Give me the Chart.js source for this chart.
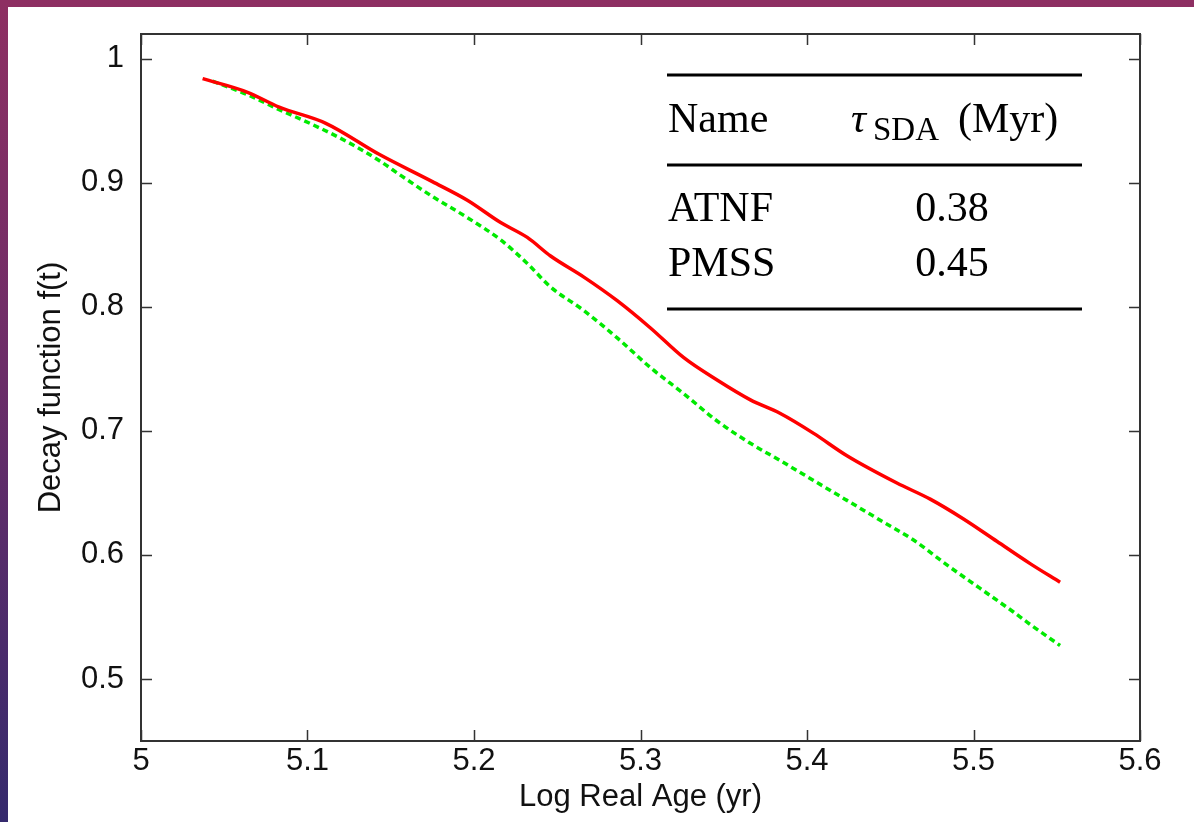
<!DOCTYPE html>
<html>
<head>
<meta charset="utf-8">
<script src="https://cdn.jsdelivr.net/npm/chart.js@4"></script>
<style>
  html, body { margin: 0; padding: 0; }
  body {
    width: 1194px; height: 822px; overflow: hidden; position: relative;
    background: linear-gradient(to bottom, #8e2f62 0%, #6c2d68 45%, #352a6d 100%);
  }
  #card { position: absolute; left: 8px; top: 7px; width: 1186px; height: 815px; background: #fff; }
  #chart { display: block; }
</style>
</head>
<body>
<div id="card"><canvas id="chart" width="1186" height="815"></canvas></div>
<script>
// Data
const atnfAge = [5.037, 5.064, 5.083, 5.111, 5.143, 5.175, 5.196, 5.216, 5.232, 5.246, 5.266, 5.286,
  5.306, 5.326, 5.346, 5.366, 5.384, 5.404, 5.424, 5.454, 5.474, 5.494, 5.514, 5.534, 5.552];
const atnfDecay = [0.984, 0.973, 0.961, 0.948, 0.923, 0.901, 0.886, 0.868, 0.856, 0.841, 0.824, 0.805,
  0.783, 0.759, 0.741, 0.725, 0.714, 0.698, 0.680, 0.658, 0.645, 0.629, 0.611, 0.593, 0.578];

const pmssAge = [5.043, 5.064, 5.083, 5.103, 5.124, 5.143, 5.156, 5.175, 5.196, 5.216, 5.232, 5.246,
  5.266, 5.286, 5.306, 5.326, 5.346, 5.366, 5.384, 5.404, 5.424, 5.444, 5.464, 5.484, 5.504, 5.524, 5.534, 5.552];
const pmssDecay = [0.982, 0.971, 0.959, 0.947, 0.933, 0.918, 0.906, 0.889, 0.872, 0.854, 0.835, 0.816,
  0.797, 0.775, 0.751, 0.730, 0.708, 0.690, 0.676, 0.660, 0.644, 0.628, 0.612, 0.592, 0.573, 0.554, 0.544, 0.527];

const xTicks = [5, 5.1, 5.2, 5.3, 5.4, 5.5, 5.6];
const xTickLabels = ['5', '5.1', '5.2', '5.3', '5.4', '5.5', '5.6'];
const yTicks = [0.5, 0.6, 0.7, 0.8, 0.9, 1];
const yTickLabels = ['0.5', '0.6', '0.7', '0.8', '0.9', '1'];

// inset table
const tableNames = ['ATNF', 'PMSS'];
const tableTau = ['0.38', '0.45'];

const toPoints = (xs, ys) => xs.map((x, i) => ({ x: x, y: ys[i] }));

// gnuplot style frame with inward ticks on all sides
const framePlugin = {
  id: 'frame',
  afterDatasetsDraw(chart) {
    const { ctx, chartArea: a, scales } = chart;
    const tick = 11;
    ctx.save();
    ctx.strokeStyle = '#333';
    ctx.lineWidth = 2;
    ctx.strokeRect(a.left, a.top, a.right - a.left, a.bottom - a.top);
    ctx.lineWidth = 1.5;
    ctx.beginPath();
    xTicks.forEach(v => {
      const px = Math.round(scales.x.getPixelForValue(v)) + 0.5;
      ctx.moveTo(px, a.bottom); ctx.lineTo(px, a.bottom - tick);
      ctx.moveTo(px, a.top); ctx.lineTo(px, a.top + tick);
    });
    yTicks.forEach(v => {
      const py = Math.round(scales.y.getPixelForValue(v)) + 0.5;
      ctx.moveTo(a.left, py); ctx.lineTo(a.left + tick, py);
      ctx.moveTo(a.right, py); ctx.lineTo(a.right - tick, py);
    });
    ctx.stroke();
    ctx.restore();
  }
};

// the LaTeX table in the upper right
const tablePlugin = {
  id: 'table',
  afterDraw(chart) {
    const ctx = chart.ctx;
    const left = 659, right = 1074;
    const serif = '"Liberation Serif", "DejaVu Serif", serif';
    ctx.save();
    ctx.fillStyle = '#000';
    ctx.strokeStyle = '#000';
    ctx.lineWidth = 3;
    [68, 158, 302].forEach(y => {
      ctx.beginPath(); ctx.moveTo(left, y); ctx.lineTo(right, y); ctx.stroke();
    });
    ctx.textBaseline = 'alphabetic';
    ctx.textAlign = 'left';
    ctx.font = '42px ' + serif;
    ctx.fillText('Name', 660, 125);
    ctx.font = 'italic 42px ' + serif;
    ctx.fillText('\u03C4', 843, 125);
    ctx.font = '33px ' + serif;
    ctx.fillText('SDA', 865, 133);
    ctx.font = '42px ' + serif;
    ctx.fillText('(Myr)', 950, 125);
    const rowY = [214, 269];
    tableNames.forEach((n, i) => {
      ctx.textAlign = 'left';
      ctx.fillText(n, 660, rowY[i]);
      ctx.textAlign = 'center';
      ctx.fillText(tableTau[i], 944, rowY[i]);
    });
    ctx.restore();
  }
};

const sansFont = { family: '"Liberation Sans", Arial, sans-serif', size: 31, lineHeight: 1.2 };

new Chart(document.getElementById('chart'), {
  type: 'scatter',
  data: {
    datasets: [
      {
        label: 'ATNF',
        data: toPoints(atnfAge, atnfDecay),
        showLine: true,
        borderColor: '#ff0000',
        borderWidth: 3.5,
        pointRadius: 0,
        cubicInterpolationMode: 'monotone'
      },
      {
        label: 'PMSS',
        data: toPoints(pmssAge, pmssDecay),
        showLine: true,
        borderColor: '#00ea00',
        borderWidth: 3.5,
        borderDash: [6, 4],
        pointRadius: 0,
        cubicInterpolationMode: 'monotone'
      }
    ]
  },
  options: {
    responsive: false,
    animation: false,
    layout: { padding: { left: 0, top: 27, right: 54, bottom: 0 } },
    plugins: { legend: { display: false }, tooltip: { enabled: false } },
    scales: {
      x: {
        type: 'linear',
        min: 5, max: 5.6,
        afterBuildTicks: s => { s.ticks = xTicks.map(v => ({ value: v })); },
        afterFit: s => { s.height = 81; s.paddingLeft = 0; s.paddingRight = 0; },
        grid: { display: false, drawTicks: false },
        border: { display: false },
        ticks: {
          color: '#111', font: sansFont, padding: 2, maxRotation: 0, autoSkip: false,
          callback: v => xTickLabels[xTicks.indexOf(v)]
        },
        title: {
          display: true, text: 'Log Real Age (yr)', color: '#111', font: sansFont,
          padding: { top: 0, bottom: 6 }
        }
      },
      y: {
        type: 'linear',
        min: 0.45, max: 1.02,
        afterBuildTicks: s => { s.ticks = yTicks.map(v => ({ value: v })); },
        afterFit: s => { s.width = 133; s.paddingTop = 0; s.paddingBottom = 0; },
        grid: { display: false, drawTicks: false },
        border: { display: false },
        ticks: {
          color: '#111', font: sansFont, padding: 17, autoSkip: false,
          callback: v => yTickLabels[yTicks.indexOf(v)]
        },
        title: {
          display: true, text: 'Decay function f(t)', color: '#111', font: sansFont,
          padding: { top: 25, bottom: 0 }
        }
      }
    }
  },
  plugins: [framePlugin, tablePlugin]
});
</script>
</body>
</html>
